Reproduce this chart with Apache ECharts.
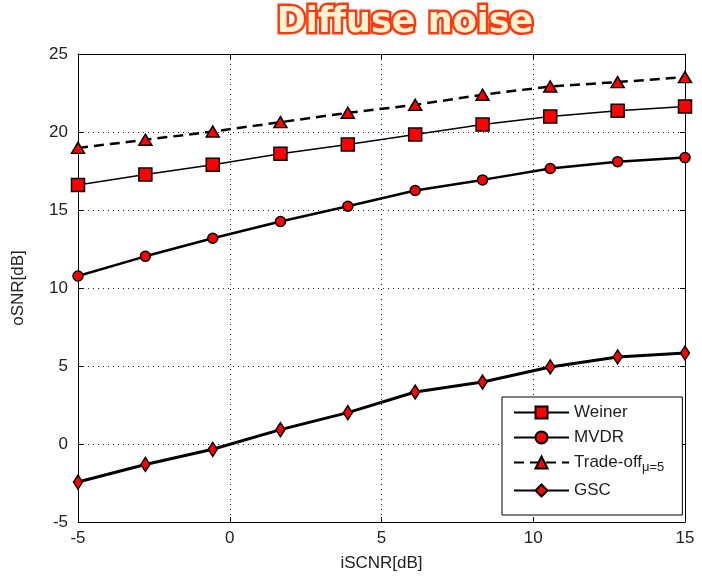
<!DOCTYPE html>
<html>
<head>
<meta charset="utf-8">
<style>
  html, body { margin: 0; padding: 0; background: #ffffff; }
  #chart { width: 702px; height: 579px; }
</style>
<script src="https://cdn.jsdelivr.net/npm/echarts@6/dist/echarts.min.js"></script>
</head>
<body>
<div id="chart"></div>
<script>
// Input SCNR sweep (dB)
const iscnr = [-5, -2.78, -0.56, 1.67, 3.89, 6.11, 8.33, 10.56, 12.78, 15];

// Output SNR (dB) per beamformer
const weiner   = [16.6, 17.27, 17.9, 18.6, 19.2, 19.84, 20.48, 21.0, 21.36, 21.64];
const mvdr     = [10.77, 12.03, 13.19, 14.26, 15.24, 16.25, 16.93, 17.66, 18.1, 18.36];
const tradeoff = [18.98, 19.5, 20.03, 20.63, 21.23, 21.74, 22.39, 22.92, 23.2, 23.52];
const gsc      = [-2.44, -1.31, -0.34, 0.92, 2.01, 3.33, 3.97, 4.94, 5.58, 5.83];

const xTicks = { min: -5, max: 15, interval: 5 };
const yTicks = { min: -5, max: 25, interval: 5 };

const pairs = ys => iscnr.map((x, i) => [x, ys[i]]);

const font = '"Liberation Sans", Arial, sans-serif';
const textColor = '#222222';

const markerStyle = { color: '#ff0000', borderColor: '#000000', borderWidth: 1.5 };

function axisCommon(extra) {
  return Object.assign({
    type: 'value',
    axisLine: { show: true, onZero: false, lineStyle: { color: '#000', width: 1 } },
    axisTick: { show: true, inside: true, length: 5, lineStyle: { color: '#000' } },
    axisLabel: { color: textColor, fontFamily: font, fontSize: 17 },
    splitLine: { show: false }
  }, extra);
}

const gridLine = { show: true, lineStyle: { color: '#222', width: 1, type: [1, 4] } };

const chart = echarts.init(document.getElementById('chart'), null, { renderer: 'canvas' });

chart.setOption({
  animation: false,
  backgroundColor: '#ffffff',
  graphic: [{
    type: 'text',
    x: 405, y: 23,
    z: 10,
    style: {
      text: 'Diffuse noise',
      align: 'center',
      verticalAlign: 'middle',
      fontFamily: '"DejaVu Sans", sans-serif',
      fontWeight: 'bold',
      fontSize: 35,
      fill: '#fff4d2',
      stroke: '#ff3a12',
      lineWidth: 5,
      shadowColor: 'rgba(0,0,0,0.35)',
      shadowBlur: 3,
      shadowOffsetX: 2,
      shadowOffsetY: 2
    }
  }],
  grid: { left: 78, right: 17, top: 54, bottom: 57, containLabel: false },
  xAxis: [
    axisCommon({
      min: xTicks.min, max: xTicks.max, interval: xTicks.interval,
      position: 'bottom',
      name: 'iSCNR[dB]', nameLocation: 'middle', nameGap: 33,
      nameTextStyle: { color: textColor, fontFamily: font, fontSize: 17 },
      axisLabel: { color: textColor, fontFamily: font, fontSize: 17, margin: 8 },
      splitLine: gridLine
    }),
    axisCommon({
      min: xTicks.min, max: xTicks.max, interval: xTicks.interval,
      position: 'top',
      axisLabel: { show: false }
    })
  ],
  yAxis: [
    axisCommon({
      min: yTicks.min, max: yTicks.max, interval: yTicks.interval,
      position: 'left',
      name: 'oSNR[dB]', nameLocation: 'middle', nameGap: 51,
      nameTextStyle: { color: textColor, fontFamily: font, fontSize: 17 },
      axisLabel: { color: textColor, fontFamily: font, fontSize: 17, margin: 10 },
      splitLine: gridLine
    }),
    axisCommon({
      min: yTicks.min, max: yTicks.max, interval: yTicks.interval,
      position: 'right',
      axisLabel: { show: false }
    })
  ],
  legend: {
    orient: 'vertical',
    left: 502, top: 397,
    padding: [7, 18, 16, 11],
    itemGap: 8,
    itemWidth: 55,
    itemHeight: 15,
    backgroundColor: '#ffffff',
    borderColor: '#000000',
    borderWidth: 1,
    borderRadius: 0,
    data: ['Weiner', 'MVDR', 'Trade-off', 'GSC'],
    formatter: name => name === 'Trade-off' ? '{n|Trade-off}{s|μ=5}' : name,
    textStyle: {
      color: textColor, fontFamily: font, fontSize: 17,
      rich: {
        n: { color: textColor, fontFamily: font, fontSize: 17 },
        s: { color: textColor, fontFamily: font, fontSize: 13, padding: [10, 0, 0, 0] }
      }
    }
  },
  series: [
    {
      name: 'Weiner', type: 'line', data: pairs(weiner),
      symbol: 'rect', symbolSize: 13, clip: false,
      lineStyle: { color: '#000', width: 1.5 },
      itemStyle: markerStyle
    },
    {
      name: 'MVDR', type: 'line', data: pairs(mvdr),
      symbol: 'circle', symbolSize: 10, clip: false,
      lineStyle: { color: '#000', width: 2.5 },
      itemStyle: markerStyle
    },
    {
      name: 'Trade-off', type: 'line', data: pairs(tradeoff),
      symbol: 'triangle', symbolSize: [13, 11], clip: false,
      lineStyle: { color: '#000', width: 2.5, type: [10, 6] },
      itemStyle: markerStyle
    },
    {
      name: 'GSC', type: 'line', data: pairs(gsc),
      symbol: 'diamond', symbolSize: [9, 14], clip: false,
      lineStyle: { color: '#000', width: 3 },
      itemStyle: markerStyle
    }
  ]
});
</script>
</body>
</html>
